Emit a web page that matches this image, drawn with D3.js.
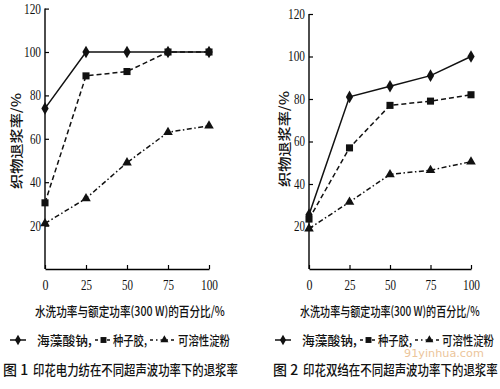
<!DOCTYPE html>
<html lang="zh">
<head>
<meta charset="utf-8">
<title>退浆率</title>
<script src="https://cdnjs.cloudflare.com/ajax/libs/d3/7.8.5/d3.min.js"></script>
<style>
  body { margin: 0; background: #fff; }
  svg { display: block; }
</style>
</head>
<body>
<script>
// data
var powerPct = [0, 25, 50, 75, 100];
var yTicks = [20, 40, 60, 80, 100, 120];
var seriesNames = ["海藻酸钠,", "种子胶,", "可溶性淀粉"];

// 图1 印花电力纺
var fig1Alginate = [74, 100, 100, 100, 100];
var fig1SeedGum = [30.5, 89, 91, 100, 100];
var fig1Starch = [21, 32.5, 49, 63, 66];

// 图2 印花双绉
var fig2Alginate = [25.5, 81, 86, 91, 100];
var fig2SeedGum = [23.5, 57, 77, 79, 82];
var fig2Starch = [19, 31.5, 44.5, 46.5, 50.5];

var xTitle = "水洗功率与额定功率(300 W)的百分比/%";
var yTitle = "织物退浆率/%";
var captions = ["印花电力纺在不同超声波功率下的退浆率", "印花双绉在不同超声波功率下的退浆率"];

var w = 500, h = 389;
var numFont = "'Liberation Serif', 'DejaVu Serif', serif";
var cjkFont = "'Noto Sans CJK SC', 'Noto Sans', sans-serif";

var svg = d3.select("body").append("svg")
  .attr("width", w)
  .attr("height", h);

// squeeze a text horizontally to a given width (the scan uses a narrow face)
function squeeze(parent, x, y, str, size, width, rot) {
  var t = parent.append("text")
    .attr("dy", "0.35em")
    .attr("font-family", cjkFont)
    .attr("font-size", size + "px")
    .attr("font-weight", 500)
    .attr("fill", "#111")
    .text(str);
  var k = width / t.node().getComputedTextLength();
  var tr = "translate(" + x + "," + y + ")";
  if (rot) {
    t.attr("text-anchor", "middle");
    tr += " rotate(-90)";
  }
  t.attr("transform", tr + " scale(" + k + ",1)");
  return t;
}

var styles = [
  { dash: null, sym: d3.symbolDiamond, size: 46 },
  { dash: "5,3", sym: d3.symbolSquare, size: 50 },
  { dash: "5,2.5,1.5,2.5", sym: d3.symbolTriangle, size: 40 }
];

var panels = [
  { x0: 45, x1: 209, yTop: 8.6, yBot: 269, series: [fig1Alginate, fig1SeedGum, fig1Starch],
    yLabX: 16, yLabY: 141, titleX: 35, titleW: 190,
    legX: [10, 37, 95, 113, 150, 178], fig: "图 1", capX: 3, capTx: 33, capW: 205 },
  { x0: 309, x1: 471, yTop: 14, yBot: 269, series: [fig2Alginate, fig2SeedGum, fig2Starch],
    yLabX: 284, yLabY: 139, titleX: 300, titleW: 180,
    legX: [275, 302, 360, 378, 415, 442], fig: "图 2", capX: 273, capTx: 303, capW: 195 }
];

panels.forEach(function(p, pi) {
  var x = d3.scaleLinear().domain([0, 100]).range([p.x0, p.x1]);
  var y = d3.scaleLinear().domain([0, 120]).range([p.yBot, p.yTop]);
  var g = svg.append("g");

  // y axis, ticks pointing inward
  var ya = g.append("g")
    .attr("transform", "translate(" + p.x0 + ",0)")
    .call(d3.axisLeft(y).tickValues(yTicks).tickSize(-4).tickSizeOuter(0).tickPadding(4));
  ya.select(".domain").attr("d", "M0," + y(0) + "V" + y(120)).attr("stroke-width", 1.4);
  ya.selectAll("line").attr("stroke-width", 1.2);
  ya.selectAll("text").attr("font-family", numFont).attr("font-size", "14px")
    .attr("fill", "#111").attr("textLength", function(d) { return d >= 100 ? 17 : 11; })
    .attr("lengthAdjust", "spacingAndGlyphs");

  // x axis
  var xa = g.append("g")
    .attr("transform", "translate(0," + p.yBot + ")")
    .call(d3.axisBottom(x).tickValues(powerPct).tickSize(-4).tickSizeOuter(0).tickPadding(11));
  xa.select(".domain").attr("stroke-width", 1.4);
  xa.selectAll("line").attr("stroke-width", 1.2);
  xa.selectAll("text").attr("font-family", numFont).attr("font-size", "14px")
    .attr("fill", "#111").attr("textLength", function(d) { return d >= 100 ? 17 : (d > 0 ? 11 : 6); })
    .attr("lengthAdjust", "spacingAndGlyphs");

  // series lines and markers
  p.series.forEach(function(vals, si) {
    var st = styles[si];
    var pts = vals.map(function(v, i) { return [powerPct[i], v]; });
    g.append("path")
      .datum(pts)
      .attr("fill", "none")
      .attr("stroke", "#111")
      .attr("stroke-width", 1.5)
      .attr("stroke-dasharray", st.dash)
      .attr("d", d3.line().x(function(d) { return x(d[0]); }).y(function(d) { return y(d[1]); }));
    g.selectAll(".m" + si)
      .data(pts)
      .enter()
      .append("path")
      .attr("class", "m" + si)
      .attr("transform", function(d) { return "translate(" + x(d[0]) + "," + y(d[1]) + ")"; })
      .attr("d", d3.symbol().type(st.sym).size(st.size))
      .attr("fill", "#111");
  });

  // titles
  squeeze(g, p.yLabX, p.yLabY, yTitle, 13, 96, true);
  squeeze(g, p.titleX, 311, xTitle, 13, p.titleW);

  // legend
  var ly = 340;
  var textW = [55, 34, 52];
  seriesNames.forEach(function(name, si) {
    var st = styles[si];
    var sx = p.legX[si * 2];
    var sw = si === 0 ? 16 : (si === 1 ? 17 : 24);
    g.append("line")
      .attr("x1", sx).attr("x2", sx + sw)
      .attr("y1", ly).attr("y2", ly)
      .attr("stroke", "#111")
      .attr("stroke-width", 1.5)
      .attr("stroke-dasharray", si === 0 ? null : (si === 1 ? "3,3" : "3,3,1.5,3"));
    g.append("path")
      .attr("transform", "translate(" + (sx + sw * (si === 2 ? 0.6 : 0.5)) + "," + ly + ")")
      .attr("d", d3.symbol().type(st.sym).size(st.size * 0.7))
      .attr("fill", "#111");
    squeeze(g, p.legX[si * 2 + 1], ly, name, 13, textW[si]);
  });

  // caption
  g.append("text")
    .attr("x", p.capX)
    .attr("y", 370)
    .attr("dy", "0.35em")
    .attr("font-family", cjkFont)
    .attr("font-size", "14px")
    .attr("font-weight", 500)
    .attr("fill", "#111")
    .text(p.fig);
  squeeze(g, p.capTx, 370, captions[pi], 14, p.capW);
});

// watermark of the source scan
var wm = svg.append("text")
  .attr("dy", "0.35em")
  .attr("font-family", "'DejaVu Sans', sans-serif")
  .attr("font-size", "10px")
  .attr("fill", "#e6b27a")
  .attr("opacity", 0.75)
  .text("91yinhua.com");
wm.attr("transform", "translate(404,353) scale(" + (80 / wm.node().getComputedTextLength()) + ",1)");
</script>
</body>
</html>
